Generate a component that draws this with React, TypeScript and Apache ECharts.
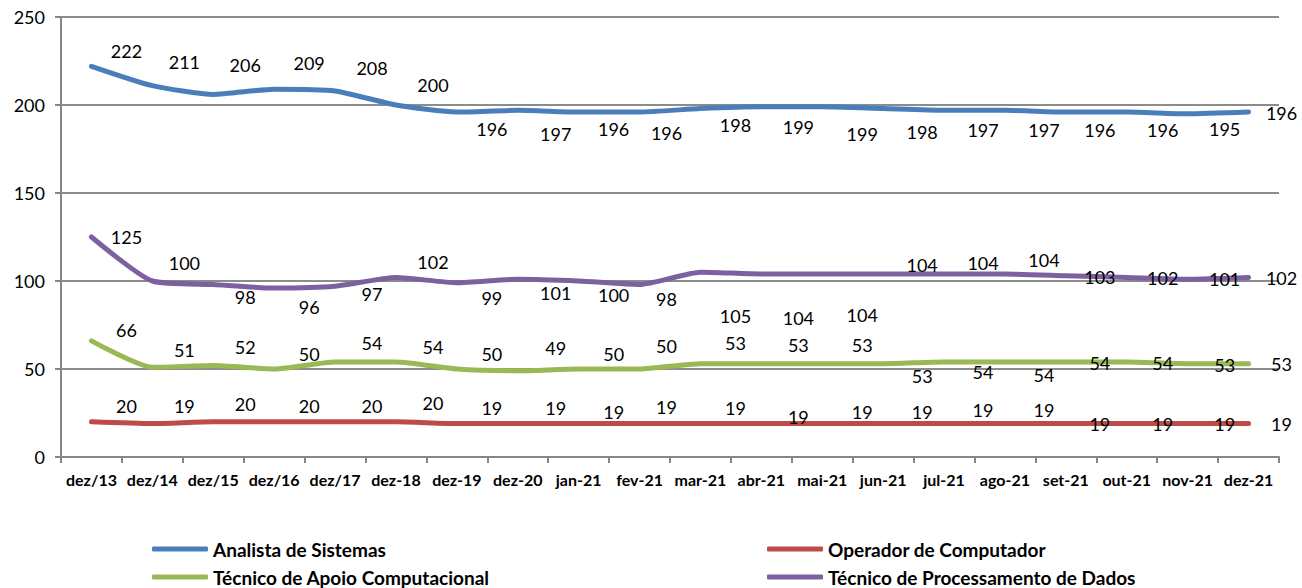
import React, { useEffect, useRef } from "react";
import * as echarts from "echarts";

const categories = [
  "dez/13", "dez/14", "dez/15", "dez/16", "dez/17", "dez-18", "dez-19", "dez-20",
  "jan-21", "fev-21", "mar-21", "abr-21", "mai-21", "jun-21", "jul-21", "ago-21",
  "set-21", "out-21", "nov-21", "dez-21",
];

const analista = [222, 211, 206, 209, 208, 200, 196, 197, 196, 196, 198, 199, 199, 198, 197, 197, 196, 196, 195, 196];
const operador = [20, 19, 20, 20, 20, 20, 19, 19, 19, 19, 19, 19, 19, 19, 19, 19, 19, 19, 19, 19];
const apoio = [66, 51, 52, 50, 54, 54, 50, 49, 50, 50, 53, 53, 53, 53, 54, 54, 54, 54, 53, 53];
const processamento = [125, 100, 98, 96, 97, 102, 99, 101, 100, 98, 105, 104, 104, 104, 104, 104, 103, 102, 101, 102];

const yTicks = { min: 0, max: 250, interval: 50 };

// label placement (style, pixels) — offsets from each point
const LABEL_DX = [35, 32, 32, 35, 37, 37, 35, 38, 35, 27, 35, 37, 40, 39, 39, 39, 34, 36, 37, 33];
const DY_ANALISTA = [-15, -24, -29, -26, -23, -20, 17, 24, 17, 21, 16, 20, 27, 23, 20, 20, 18, 18, 15, 1];
const DY_PROC = [0, -18, 12, 19, 8, -15, 15, 14, 14, 14, 44, 44, 41, -9, -11, -14, 1, 1, 0, 1];
const DY_APOIO = [-11, -17, -18, -15, -19, -15, -15, -23, -15, -23, -21, -19, -19, 12, 10, 13, 1, 1, 1, 0];
const DY_OPER = [-16, -18, -18, -16, -16, -19, -16, -16, -12, -17, -16, -7, -12, -12, -14, -14, 0, 0, 0, 0];

const FONT = "Lato, 'Open Sans', sans-serif";

function makeSeries(name: string, values: number[], dys: number[], color: string) {
  return {
    name,
    type: "line",
    smooth: 0.2,
    symbol: "circle",
    symbolSize: 0.01,
    showSymbol: true,
    clip: false,
    color,
    itemStyle: { color, borderWidth: 0 },
    lineStyle: { color, width: 5, cap: "round", join: "round" },
    emphasis: { disabled: true },
    label: {
      show: true,
      position: "inside",
      align: "center",
      verticalAlign: "middle",
      color: "#000",
      fontFamily: FONT,
      fontSize: 18,
    },
    data: values.map((v, i) => ({
      value: v,
      label: { offset: [LABEL_DX[i], dys[i]] },
    })),
  };
}

export default function App() {
  const ref = useRef<HTMLDivElement>(null);
  useEffect(() => {
    if (!ref.current) return;
    const chart = echarts.init(ref.current, undefined, { renderer: "svg" });
    const legendText = { color: "#000", fontFamily: FONT, fontSize: 19, fontWeight: "bold" as const, lineHeight: 20 };
    const legendBase = {
      orient: "vertical",
      top: 539,
      height: 49,
      padding: 0,
      itemWidth: 56,
      itemHeight: 5,
      itemGap: 8,
      icon: "roundRect",
      textStyle: legendText,
      selectedMode: false,
    };
    chart.setOption({
      animation: false,
      backgroundColor: "#fff",
      grid: { left: 61, right: 23, top: 17, bottom: 131, containLabel: false },
      xAxis: {
        type: "category",
        data: categories,
        boundaryGap: true,
        axisLine: { lineStyle: { color: "#868686", width: 2 } },
        axisTick: { show: true, length: 6, lineStyle: { color: "#868686", width: 2 } },
        axisLabel: {
          interval: 0,
          margin: 14,
          color: "#000",
          fontFamily: FONT,
          fontSize: 16,
          fontWeight: "bold",
        },
      },
      yAxis: {
        type: "value",
        min: yTicks.min,
        max: yTicks.max,
        interval: yTicks.interval,
        axisLine: { show: true, lineStyle: { color: "#868686", width: 2 } },
        axisTick: { show: true, length: 6, lineStyle: { color: "#868686", width: 2 } },
        splitLine: { show: true, lineStyle: { color: "#8c8c8c", width: 2 } },
        axisLabel: { margin: 16, color: "#000", fontFamily: FONT, fontSize: 18 },
      },
      legend: [
        {
          ...legendBase,
          left: 152,
          data: ["Analista de Sistemas", "Técnico de Apoio Computacional"],
        },
        {
          ...legendBase,
          left: 767,
          data: ["Operador de Computador", "Técnico de Processamento de Dados"],
        },
      ],
      series: [
        makeSeries("Analista de Sistemas", analista, DY_ANALISTA, "#4A7EBB"),
        makeSeries("Operador de Computador", operador, DY_OPER, "#BE4B48"),
        makeSeries("Técnico de Apoio Computacional", apoio, DY_APOIO, "#98B954"),
        makeSeries("Técnico de Processamento de Dados", processamento, DY_PROC, "#7D60A0"),
      ],
    });
    return () => chart.dispose();
  }, []);
  return (
    <div
      ref={ref}
      style={{ position: "absolute", left: 0, top: 0, width: 1302, height: 588, background: "#fff" }}
    />
  );
}
